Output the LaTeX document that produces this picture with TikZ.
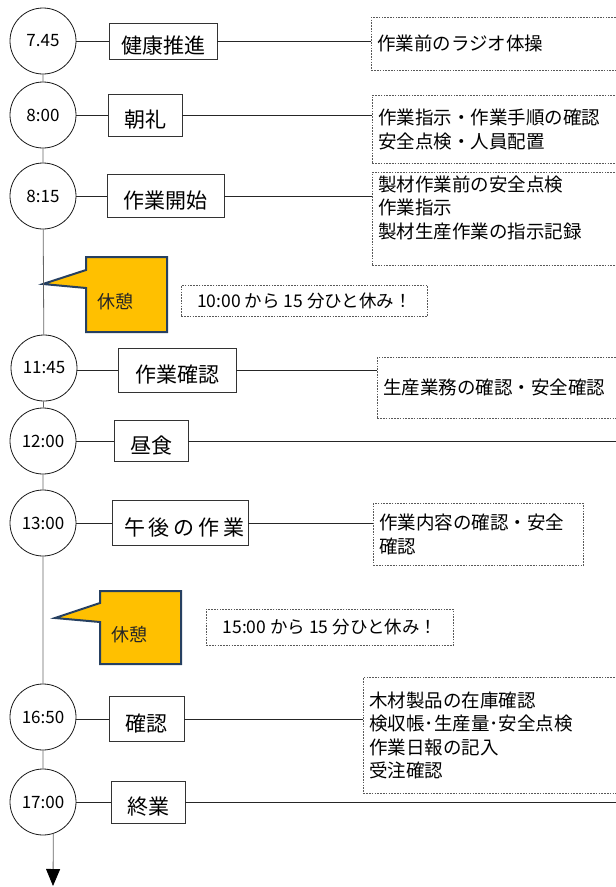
\documentclass[tikz,border=0pt]{standalone}
\usepackage{fontspec}
\setmainfont{Noto Sans CJK JP}
\usetikzlibrary{arrows.meta}
\definecolor{restgold}{RGB}{255,192,0}
\definecolor{restedge}{RGB}{38,64,97}
\begin{document}
\begin{tikzpicture}[x=1pt, y=-1pt,
    every node/.style={inner sep=0pt},
    clock/.style={circle, draw=black!90, line width=0.8pt, minimum size=66pt,
      font=\fontsize{17}{17}\selectfont},
    stepbox/.style={draw=black!80, line width=0.8pt, font=\fontsize{21}{21}\selectfont,
      text height=25pt, text depth=1pt},
    note/.style={draw=black!65, line width=0.7pt, dash pattern=on 1.6pt off 1.2pt,
      anchor=north west, align=left, inner xsep=6pt, font=\fontsize{18.5}{23.5}\selectfont},
    restnote/.style={note, align=center, font=\fontsize{17.5}{17.5}\selectfont},
    resttext/.style={font=\fontsize{18}{18}\selectfont, text=black!85},
    link/.style={draw=black!85, line width=0.8pt},
    spine/.style={draw=black!60, line width=0.8pt},
    callout/.style={fill=restgold, draw=restedge, line width=2pt, line join=miter}
    ]
    \path[use as bounding box, clip] (0,0) rectangle (616,887);

    \node[clock] (t745) at (43,41) {7.45};
    \node[stepbox, minimum width=108pt, minimum height=36pt] (s745) at (163,41) {健康推進};
    \node[note, text width=260pt, minimum height=53pt] (n745) at (371,17) {作業前のラジオ体操};

    \node[clock] (t800) at (43,115) {8:00};
    \node[stepbox, minimum width=74pt, minimum height=42pt] (s800) at (145,115) {朝礼};
    \node[note, text width=260pt, minimum height=68pt] (n800) at (372,95)
      {作業指示・作業手順の確認\\安全点検・人員配置};

    \node[clock] (t815) at (43,196) {8:15};
    \node[stepbox, minimum width=117pt, minimum height=43pt] (s815) at (165.5,196) {作業開始};
    \node[note, text width=260pt, minimum height=93pt] (n815) at (372,172)
      {製材作業前の安全点検\\作業指示\\製材生産作業の指示記録\\\mbox{}};

    \draw[callout] (86,257) -- (167,257) -- (167,332) -- (86,332) -- (86,288) -- (43,284) -- (86,270) -- cycle;
    \node[resttext] (rest1) at (115,302) {休憩};
    \node[restnote, minimum width=246pt, minimum height=31pt] (b1) at (181,285)
      {10:00 から 15 分ひと休み！};

    \node[clock] (t1145) at (44,368) {11:45};
    \node[stepbox, minimum width=118pt, minimum height=44pt] (s1145) at (177,370) {作業確認};
    \node[note, text width=260pt, minimum height=61pt] (n1145) at (377,357) {生産業務の確認・安全確認};

    \node[clock] (t1200) at (43,441) {12:00};
    \node[stepbox, minimum width=74pt, minimum height=41pt] (s1200) at (151,441) {昼食};
    \coordinate (lunchend) at (616,441);

    \node[clock] (t1300) at (43,523) {13:00};
    \node[stepbox, text width=130pt, align=right, inner xsep=3pt, minimum height=45pt] (s1300) at (180,523)
      {午\hspace{4pt}後\hspace{4pt}の\hspace{4pt}作\hspace{4pt}業};
    \node[note, text width=198pt, minimum height=62pt] (n1300) at (373,503)
      {作業内容の確認・安全\\確認};

    \draw[callout] (100,591) -- (181,591) -- (181,664) -- (100,664) -- (100,622) -- (55,618) -- (100,603) -- cycle;
    \node[resttext] (rest2) at (129,635) {休憩};
    \node[restnote, minimum width=247pt, minimum height=36pt] (b2) at (206,609)
      {15:00 から 15 分ひと休み！};

    \node[clock] (t1650) at (43,717) {16:50};
    \node[stepbox, minimum width=75pt, minimum height=45pt] (s1650) at (146.5,719) {確認};
    \node[note, text width=260pt, minimum height=116pt] (n1650) at (363,677)
      {木材製品の在庫確認\\検収帳･生産量･安全点検\\作業日報の記入\\受注確認};

    \node[clock] (t1700) at (43,802) {17:00};
    \node[stepbox, minimum width=74pt, minimum height=42pt] (s1700) at (148,802) {終業};
    \coordinate (workend) at (616,802);
    \coordinate (dayend) at (53,886);

    \draw[spine] (t745) -- (t800) -- (t815) -- (t1145) -- (t1200) -- (t1300) -- (t1650) -- (t1700);
    \draw[spine, -{Triangle[width=14pt, length=17pt, color=black]}] (t1700.-72) -- (dayend);

    \draw[link] (t745) -- (s745) -- (s745.east -| n745.west);
    \draw[link] (t800) -- (s800) -- (s800.east -| n800.west);
    \draw[link] (t815) -- (s815) -- (s815.east -| n815.west);
    \draw[link] (t1145.east |- s1145) -- (s1145) -- (s1145.east -| n1145.west);
    \draw[link] (t1200) -- (s1200) -- (lunchend);
    \draw[link] (t1300) -- (s1300) -- (s1300.east -| n1300.west);
    \draw[link] (t1650.east |- s1650) -- (s1650) -- (s1650.east -| n1650.west);
    \draw[link] (t1700) -- (s1700) -- (workend);
\end{tikzpicture}
\end{document}
